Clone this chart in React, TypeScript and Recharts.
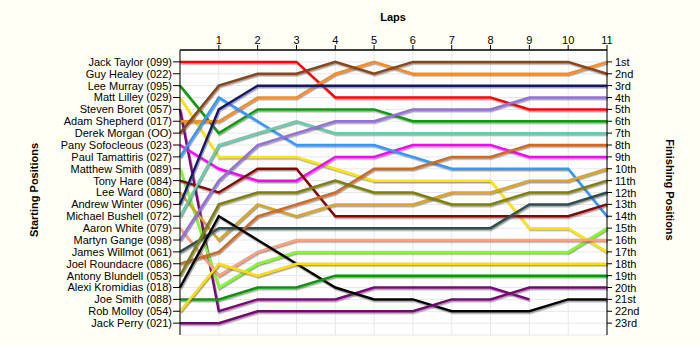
import React from 'react';
import { LineChart, Line, XAxis, YAxis, CartesianGrid } from 'recharts';

const laps = [0, 1, 2, 3, 4, 5, 6, 7, 8, 9, 10, 11];
const lapTicks = [1, 2, 3, 4, 5, 6, 7, 8, 9, 10, 11];
const positionTicks = [1, 2, 3, 4, 5, 6, 7, 8, 9, 10, 11, 12, 13, 14, 15, 16, 17, 18, 19, 20, 21, 22, 23];

const startingNames = [
  'Jack Taylor (099)', 'Guy Healey (022)', 'Lee Murray (095)', 'Matt Lilley (029)',
  'Steven Boret (057)', 'Adam Shepherd (017)', 'Derek Morgan (OO)', 'Pany Sofocleous (023)',
  'Paul Tamattiris (027)', 'Matthew Smith (089)', 'Tony Hare (084)', 'Lee Ward (080)',
  'Andrew Winter (096)', 'Michael Bushell (072)', 'Aaron White (079)', 'Martyn Gange (098)',
  'James Willmot (061)', 'Joel Roundacre (086)', 'Antony Blundell (053)', 'Alexi Kromidias (018)',
  'Joe Smith (088)', 'Rob Molloy (054)', 'Jack Perry (021)',
];

const finishingLabels = [
  '1st', '2nd', '3rd', '4th', '5th', '6th', '7th', '8th', '9th', '10th', '11th', '12th',
  '13th', '14th', '15th', '16th', '17th', '18th', '19th', '20th', '21st', '22nd', '23rd',
];

const driverColors = [
  '#ff0000', '#1010c0', '#00a000', '#ffe600', '#800080', '#ff8c1a', '#8b4513', '#ff00ff',
  '#3399ff', '#80ff20', '#8b0000', '#daa520', '#191970', '#66cdaa', '#ffa07a', '#9370db',
  '#2f4f4f', '#d2691e', '#808000', '#000000', '#009a00', '#ffdd00', '#7a007a',
];

// position of each driver at laps 0..11
const jackTaylor = [1, 1, 1, 1, 4, 4, 4, 4, 4, 5, 5, 5];
const guyHealey = [2, 2];
const leeMurray = [3, 7, 5, 5, 5, 5, 6, 6, 6, 6, 6, 6];
const mattLilley = [4, 9, 9, 9, 10, 11, 11, 11, 11, 15, 15, 17];
const stevenBoret = [5, 22, 21, 21, 21, 20, 20, 20, 20, 21];
const adamShepherd = [6, 6, 4, 4, 2, 1, 2, 2, 2, 2, 2, 1];
const derekMorgan = [7, 3, 2, 2, 1, 2, 1, 1, 1, 1, 1, 2];
const panySofocleous = [8, 10, 11, 11, 9, 9, 8, 8, 8, 9, 9, 9];
const paulTamattiris = [9, 4, 6, 8, 8, 8, 9, 10, 10, 10, 10, 14];
const matthewSmith = [10, 20, 18, 17, 17, 17, 17, 17, 17, 17, 17, 15];
const tonyHare = [11, 12, 10, 10, 14, 14, 14, 14, 14, 14, 14, 13];
const leeWard = [12, 16, 13, 14, 13, 13, 13, 12, 12, 11, 11, 10];
const andrewWinter = [13, 5, 3, 3, 3, 3, 3, 3, 3, 3, 3, 3];
const michaelBushell = [14, 8, 7, 6, 7, 7, 7, 7, 7, 7, 7, 7];
const aaronWhite = [15, 19, 17, 16, 16, 16, 16, 16, 16, 16, 16, 16];
const martynGange = [16, 11, 8, 7, 6, 6, 5, 5, 5, 4, 4, 4];
const jamesWillmot = [17, 15, 15, 15, 15, 15, 15, 15, 15, 13, 13, 12];
const joelRoundacre = [18, 17, 14, 13, 12, 10, 10, 9, 9, 8, 8, 8];
const antonyBlundell = [19, 13, 12, 12, 11, 12, 12, 13, 13, 12, 12, 11];
const alexiKromidias = [20, 14, 16, 18, 20, 21, 21, 22, 22, 22, 21, 21];
const joeSmith = [21, 21, 20, 20, 19, 19, 19, 19, 19, 19, 19, 19];
const robMolloy = [22, 18, 19, 18, 18, 18, 18, 18, 18, 18, 18, 18];
const jackPerry = [23, 23, 22, 22, 22, 22, 22, 21, 21, 20, 20, 20];

const driverPositions = [
  jackTaylor, guyHealey, leeMurray, mattLilley, stevenBoret, adamShepherd, derekMorgan,
  panySofocleous, paulTamattiris, matthewSmith, tonyHare, leeWard, andrewWinter,
  michaelBushell, aaronWhite, martynGange, jamesWillmot, joelRoundacre, antonyBlundell,
  alexiKromidias, joeSmith, robMolloy, jackPerry,
];

const data = laps.map((lap, i) => {
  const row: Record<string, number | null> = { lap };
  driverPositions.forEach((p, d) => {
    row['d' + d] = p[i] !== undefined ? p[i] : null;
  });
  return row;
});

const FONT = '"Liberation Sans", Arial, sans-serif';
const tickStyle = { fontSize: 11, fill: '#000', fontFamily: FONT };

const RightTick = (props: any) => {
  const { x, y, payload } = props;
  const label = finishingLabels[payload.value - 1] || '';
  return (
    <text x={x} y={y} dy={4} textAnchor="start" fontFamily={FONT} fontSize={11} fill="#000">
      {label}
    </text>
  );
};

export default function App() {
  const lastIdx = driverPositions.length - 1;
  return (
    <div style={{ position: 'absolute', left: 0, top: 0, width: 700, height: 345, background: '#fffff5' }}>
      <LineChart width={700} height={345} data={data} margin={{ top: 0, right: 0, bottom: 10, left: 0 }}>
        <defs>
          <filter id="lineShadow" x="-5%" y="-5%" width="110%" height="120%">
            <feDropShadow dx="1" dy="1.5" stdDeviation="0.4" floodColor="#555" floodOpacity="0.55" />
          </filter>
        </defs>
        <CartesianGrid yAxisId="left" stroke="#e8e8e8" fill="#ffffff" strokeDasharray="" />
        <XAxis
          dataKey="lap"
          type="number"
          orientation="top"
          domain={[0, 11]}
          ticks={lapTicks}
          interval={0}
          height={50}
          tick={tickStyle}
          tickSize={5}
          tickMargin={1}
          axisLine={{ stroke: '#000', strokeWidth: 1.3 }}
          tickLine={{ stroke: '#000' }}
          label={() => (
            <text x={393} y={21} textAnchor="middle" fontFamily={FONT} fontSize={11} fontWeight="bold" fill="#000">
              Laps
            </text>
          )}
        />
        <YAxis
          yAxisId="left"
          type="number"
          domain={[0, 24]}
          reversed
          ticks={positionTicks}
          interval={0}
          width={180}
          tick={tickStyle}
          tickSize={7}
          tickMargin={1}
          tickFormatter={(v: number) => startingNames[v - 1] || ''}
          axisLine={{ stroke: '#000' }}
          tickLine={{ stroke: '#000' }}
          label={() => (
            <text
              x={38}
              y={190}
              transform="rotate(-90 38 190)"
              textAnchor="middle"
              fontFamily={FONT}
              fontSize={11}
              fontWeight="bold"
              fill="#000"
            >
              Starting Positions
            </text>
          )}
        />
        <YAxis
          yAxisId="right"
          orientation="right"
          type="number"
          domain={[0, 24]}
          reversed
          ticks={positionTicks}
          interval={0}
          width={93}
          tick={<RightTick />}
          tickSize={5}
          tickMargin={3}
          axisLine={{ stroke: '#000' }}
          tickLine={{ stroke: '#000' }}
          label={() => (
            <text
              x={666}
              y={190}
              transform="rotate(90 666 190)"
              textAnchor="middle"
              fontFamily={FONT}
              fontSize={11}
              fontWeight="bold"
              fill="#000"
            >
              Finishing Positions
            </text>
          )}
        />
        {driverPositions.map((_, d) => (
          <Line
            key={d}
            yAxisId={d === lastIdx ? 'right' : 'left'}
            type="linear"
            dataKey={'d' + d}
            stroke={driverColors[d]}
            strokeWidth={2.5}
            dot={false}
            activeDot={false}
            connectNulls={false}
            isAnimationActive={false}
            filter="url(#lineShadow)"
          />
        ))}
      </LineChart>
    </div>
  );
}
